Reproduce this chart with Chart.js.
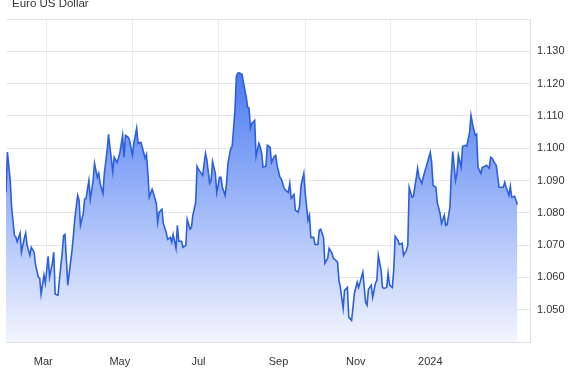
<!DOCTYPE html>
<html>
<head>
<meta charset="utf-8">
<script src="https://cdn.jsdelivr.net/npm/chart.js@4"></script>
<style>
  body { margin: 0; background: #fff; }
  #wrap { width: 577px; height: 375px; position: relative; }
</style>
</head>
<body>
<div id="wrap"><canvas id="eurusd"></canvas></div>
<script>
// days since 1 Jan 2023, and the EUR/USD close
const days = [
  30,31,33,34,36,37,38,40,41,43,44,45,47,48,50,51,53,54,55,57,58,60,61,63,64,65,67,68,70,71,72,74,75,77,78,79,81,82,83,85,86,87,89,90,92,93,95,96,97,99,100,102,103,104,106,107,109,110,111,113,114,115,117,118,120,
  121,123,124,126,127,129,130,131,132,134,135,137,138,139,141,142,144,145,147,148,149,151,152,153,155,156,158,159,161,162,163,165,166,167,169,170,172,173,175,176,177,179,180,182,183,184,186,187,188,190,191,193,194,195,196,198,199,201,202,203,204,205,207,208,210,
  211,212,213,215,216,218,219,221,222,223,225,226,228,229,231,232,233,235,236,238,239,240,242,243,245,246,247,249,250,252,253,254,256,257,259,260,262,263,264,266,267,268,270,271,273,274,276,277,278,280,281,283,284,286,287,288,290,291,293,294,295,297,298,299,301,302,
  303,305,306,307,309,310,312,313,315,316,317,319,320,322,323,324,326,327,329,330,332,333,334,336,337,339,340,342,343,344,346,347,348,350,351,352,354,355,357,358,360,361,362,364,365,366,368,369,371,372,374,375,376,378,379,381,382,384,385,386,388,389,390,392,393,394
];
const rates = [
  1.0864,1.0988,1.0900,1.0818,1.0730,1.0725,1.0710,1.0737,1.0678,1.0721,1.0737,1.0700,1.0668,1.0693,1.0678,1.0640,1.0601,1.0597,1.0548,1.0607,1.0582,1.0665,1.0600,1.0644,1.0678,1.0548,1.0545,1.0592,1.0675,1.0730,1.0733,1.0576,1.0613,1.0684,1.0730,1.0783,1.0854,1.0839,1.0761,1.0798,1.0842,1.0845,1.0900,1.0842,1.0900,1.0953,1.0910,1.0922,1.0891,1.0860,1.0922,1.0993,1.1043,1.1003,1.0928,1.0972,1.0956,1.0969,1.0984,1.1040,1.0972,1.1040,1.1034,1.1024,1.0978,
  1.1015,1.1062,1.1015,1.1018,1.1003,1.0969,1.0981,1.0922,1.0848,1.0873,1.0860,1.0829,1.0771,1.0802,1.0811,1.0767,1.0740,1.0718,1.0724,1.0709,1.0733,1.0690,1.0761,1.0712,1.0712,1.0693,1.0699,1.0780,1.0749,1.0755,1.0792,1.0832,1.0944,1.0935,1.0922,1.0916,1.0984,1.0963,1.0891,1.0900,1.0959,1.0922,1.0863,1.0910,1.0910,1.0879,1.0854,1.0891,1.0953,1.1000,1.1006,1.1117,1.1223,1.1232,1.1233,1.1229,1.1204,1.1158,1.1127,1.1124,1.1062,1.1077,1.1086,1.0975,1.1015,
  1.1003,1.0984,1.0941,1.0944,1.1009,1.1003,1.0956,1.0975,1.0978,1.0947,1.0910,1.0904,1.0876,1.0870,1.0863,1.0891,1.0845,1.0857,1.0808,1.0802,1.0823,1.0885,1.0922,1.0860,1.0777,1.0792,1.0724,1.0724,1.0702,1.0702,1.0746,1.0749,1.0724,1.0644,1.0659,1.0690,1.0675,1.0659,1.0656,1.0647,1.0591,1.0569,1.0504,1.0560,1.0569,1.0477,1.0467,1.0507,1.0551,1.0585,1.0569,1.0600,1.0616,1.0523,1.0514,1.0563,1.0576,1.0538,1.0582,1.0591,1.0668,1.0622,1.0569,1.0566,1.0569,1.0613,
  1.0576,1.0569,1.0622,1.0727,1.0715,1.0702,1.0706,1.0668,1.0684,1.0699,1.0879,1.0848,1.0851,1.0907,1.0938,1.0910,1.0891,1.0910,1.0941,1.0956,1.0987,1.0956,1.0885,1.0879,1.0832,1.0798,1.0767,1.0792,1.0761,1.0764,1.0817,1.0922,1.0990,1.0900,1.0922,1.0978,1.0941,1.1006,1.1009,1.1006,1.1049,1.1102,1.1077,1.1040,1.1043,1.0941,1.0922,1.0941,1.0944,1.0947,1.0938,1.0972,1.0969,1.0953,1.0947,1.0879,1.0879,1.0879,1.0894,1.0879,1.0854,1.0882,1.0848,1.0851,1.0839,1.0826
];

// month starts (grid) and where the month names sit
const gridDays = [59, 120, 181, 243, 304, 365];
const labelDays = [56.5, 111, 167, 224, 279, 332];
const monthLabels = ['Mar', 'May', 'Jul', 'Sep', 'Nov', '2024'];
const yTicks = [1.04, 1.05, 1.06, 1.07, 1.08, 1.09, 1.10, 1.11, 1.12, 1.13, 1.14];
const chartTitle = 'Euro US Dollar';

const FONT = 'Liberation Sans, Arial, sans-serif';

function areaFill(ctx) {
  const area = ctx.chart.chartArea;
  if (!area) return 'rgba(60,110,240,0.5)';
  const g = ctx.chart.ctx.createLinearGradient(0, area.top, 0, area.bottom);
  g.addColorStop(0, '#2a61ee');
  g.addColorStop(0.45, '#86a5f6');
  g.addColorStop(1, '#f2f5fe');
  return g;
}

const titlePlugin = {
  id: 'titleText',
  afterDraw(chart) {
    const c = chart.ctx;
    c.save();
    c.font = '11.5px ' + FONT;
    c.fillStyle = '#333';
    c.textBaseline = 'alphabetic';
    c.fillText(chartTitle, 12, 7);
    c.restore();
  }
};

new Chart(document.getElementById('eurusd'), {
  type: 'line',
  data: {
    datasets: [{
      data: days.map((d, i) => ({ x: d, y: rates[i] })),
      borderColor: '#2b5fdc',
      borderWidth: 1.6,
      backgroundColor: areaFill,
      fill: 'start',
      pointRadius: 0,
      tension: 0
    }]
  },
  options: {
    animation: false,
    responsive: true,
    maintainAspectRatio: false,
    layout: { padding: { left: 6, top: 19, right: 0, bottom: 0 } },
    plugins: { legend: { display: false }, tooltip: { enabled: false } },
    scales: {
      x: {
        type: 'linear',
        position: 'bottom',
        min: 30, max: 403,
        weight: 1,
        grid: { display: false },
        border: { display: false },
        afterBuildTicks: s => { s.ticks = labelDays.map(v => ({ value: v })); },
        afterFit: s => { s.height = 33; },
        ticks: {
          autoSkip: false, maxRotation: 0, padding: 5,
          color: '#333', font: { size: 11, family: FONT },
          callback: (v, i) => monthLabels[i]
        }
      },
      xg: {
        type: 'linear',
        position: 'bottom',
        min: 30, max: 403,
        weight: 0,
        grid: { color: '#e9ecf3', drawTicks: false },
        border: { color: '#e0e0e0' },
        ticks: { display: false },
        afterBuildTicks: s => { s.ticks = gridDays.map(v => ({ value: v })); },
        afterFit: s => { s.height = 0; }
      },
      y: {
        position: 'right',
        min: 1.04, max: 1.14,
        grid: { color: '#e6e6e6', drawTicks: false },
        border: { color: '#e0e0e0' },
        afterBuildTicks: s => { s.ticks = yTicks.map(v => ({ value: v })); },
        afterFit: s => { s.width = 47; },
        ticks: {
          padding: 7, color: '#333', font: { size: 11, family: FONT },
          callback: (v, i) => (i === 0 || i === yTicks.length - 1) ? '' : v.toFixed(3)
        }
      }
    }
  },
  plugins: [titlePlugin]
});
</script>
</body>
</html>
